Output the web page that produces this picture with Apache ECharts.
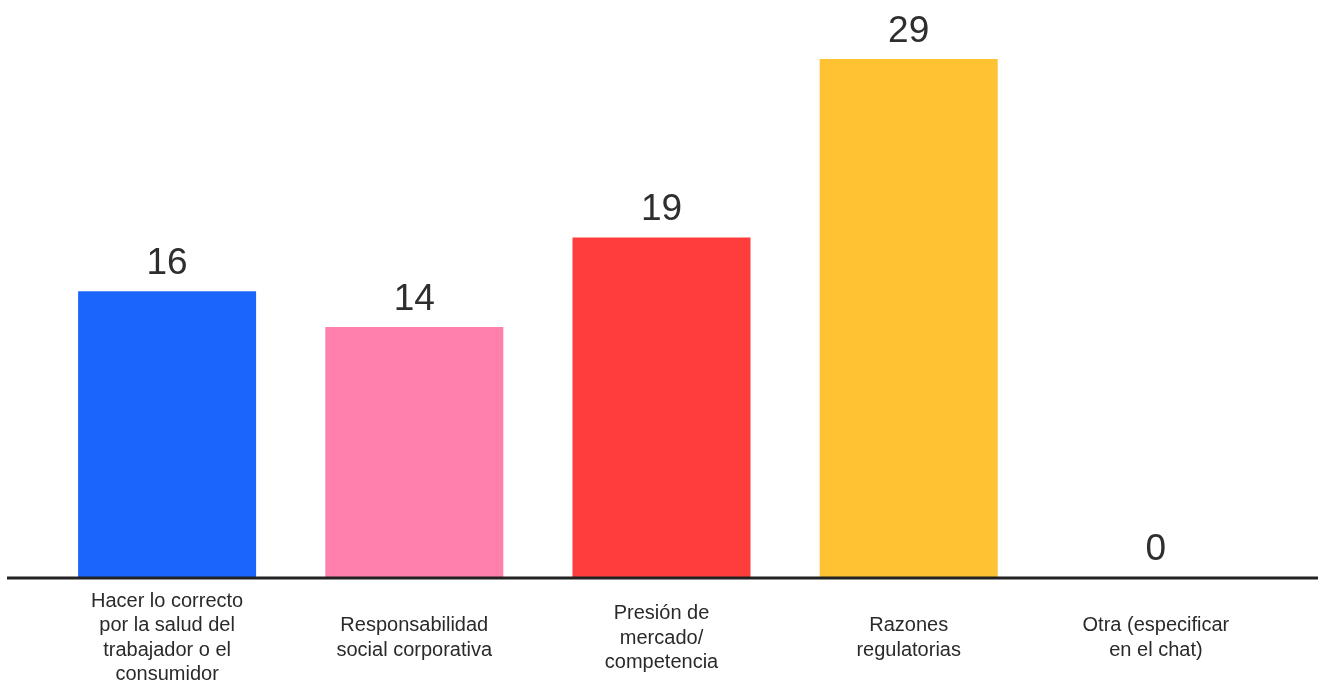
<!DOCTYPE html>
<html>
<head>
<meta charset="utf-8">
<script src="https://cdn.jsdelivr.net/npm/echarts@6/dist/echarts.min.js"></script>
<style>html,body{margin:0;padding:0;background:#fff;}#c{width:1324px;height:682px;}</style>
</head>
<body>
<div id="c"></div>
<script>
const categories = [
  'Hacer lo correcto\npor la salud del\ntrabajador o el\nconsumidor',
  'Responsabilidad\nsocial corporativa',
  'Presión de\nmercado/\ncompetencia',
  'Razones\nregulatorias',
  'Otra (especificar\nen el chat)'
];
const values = [16, 14, 19, 29, 0];
const colors = ['#1a66fc', '#ff80ad', '#ff3d3d', '#ffc233', '#cccccc'];

const GRID = {left: 43.5, right: 44.5, top: 59, bottom: 105};
const W = 1324, H = 682;
const axisY = H - GRID.bottom;
const FONT = '"Liberation Sans", Arial, sans-serif';

const chart = echarts.init(document.getElementById('c'));
chart.setOption({
  animation: false,
  grid: Object.assign({outerBoundsMode: 'none', containLabel: false}, GRID),
  xAxis: {
    type: 'category',
    data: categories,
    axisLine: {show: false},
    axisTick: {show: false},
    axisLabel: {
      interval: 0,
      margin: 61,
      verticalAlign: 'middle',
      align: 'center',
      fontFamily: FONT,
      fontSize: 20,
      lineHeight: 24.4,
      color: '#2a2a2a'
    }
  },
  yAxis: {
    type: 'value',
    min: 0, max: 29,
    show: false,
    splitLine: {show: false}
  },
  graphic: [{
    type: 'line',
    z: 10,
    shape: {x1: 7, y1: axisY + 1, x2: 1318, y2: axisY + 1},
    style: {stroke: '#222', lineWidth: 3}
  }],
  series: [{
    type: 'bar',
    barWidth: 178,
    data: values.map((v, i) => ({value: v, itemStyle: {color: colors[i]}})),
    label: {
      show: true,
      position: 'top',
      distance: 9,
      fontFamily: FONT,
      fontSize: 37,
      color: '#2e2e2e'
    }
  }]
});
</script>
</body>
</html>
